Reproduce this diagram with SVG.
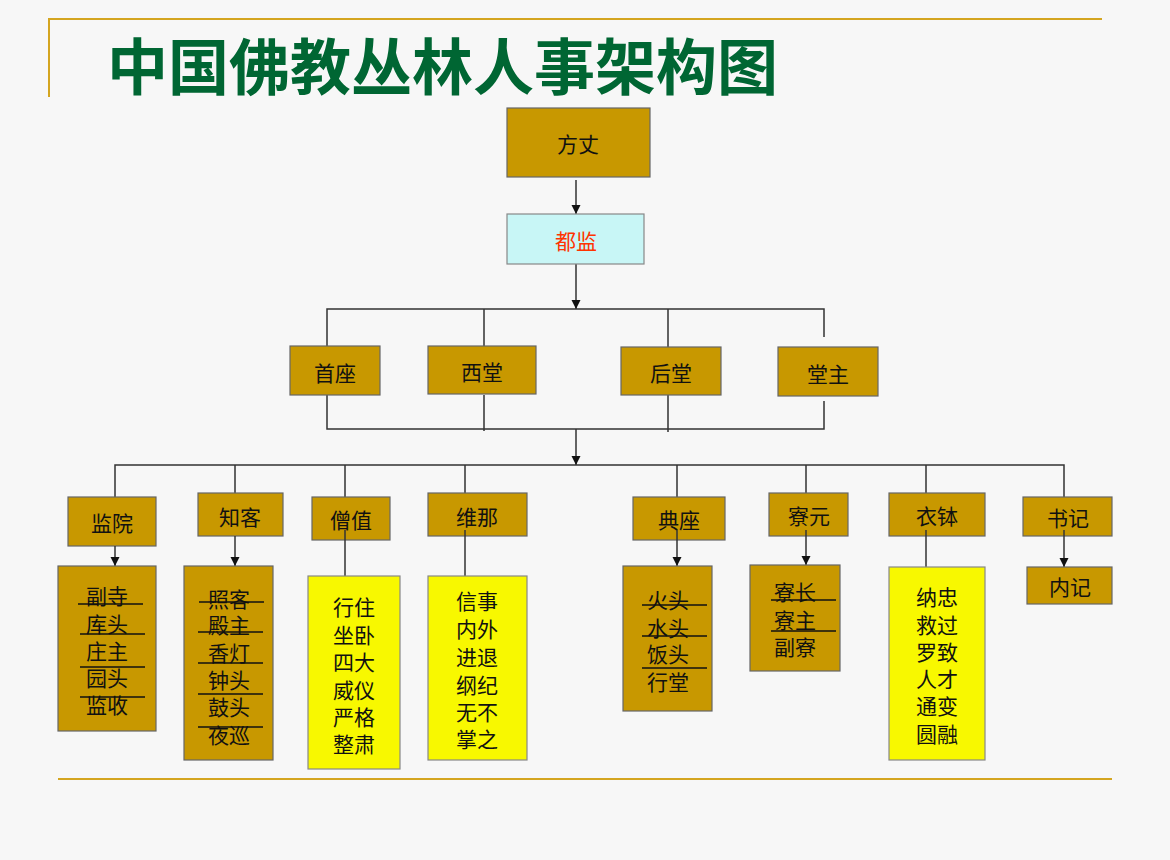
<svg xmlns="http://www.w3.org/2000/svg" width="1170" height="860" viewBox="0 0 1170 860">
<style>
.g{fill:#c89800;stroke:#666;stroke-width:1.2}
.y{fill:#f8f800;stroke:#888;stroke-width:1.2}
.b{fill:#c8f6f6;stroke:#888;stroke-width:1.2}
.t{font-family:"Noto Sans CJK SC","Noto Sans",sans-serif;font-size:21px;fill:#111;text-anchor:middle;dominant-baseline:central}
.r{fill:#ff3300}
.c{stroke:#333;stroke-width:1.5;fill:none}
.s{stroke:#111;stroke-width:1.3}
.gl{stroke:#d4a520;stroke-width:2;fill:none}
</style>
<defs>
<marker id="a" markerUnits="userSpaceOnUse" markerWidth="10" markerHeight="10" refX="9" refY="4.5" orient="auto"><path d="M0,0 L9,4.5 L0,9 z" fill="#111"/></marker>
</defs>
<rect width="1170" height="860" fill="#f7f7f7"/>
<path class="gl" d="M48,19 H1102 M49,19 V97"/>
<line class="gl" x1="58" y1="779" x2="1112" y2="779"/>
<text x="107" y="63" font-family="'Noto Sans CJK SC',sans-serif" font-weight="bold" font-size="61" fill="#006633" dominant-baseline="central">中国佛教丛林人事架构图</text>

<g id="connectors">
<line class="c" x1="576" y1="180" x2="576" y2="214" marker-end="url(#a)"/>
<line class="c" x1="576" y1="264" x2="576" y2="309" marker-end="url(#a)"/>
<path class="c" d="M327,346 V309 H824 V337 M484,309 V346 M668,309 V347"/>
<path class="c" d="M327,395 V429 H824 V401 M484,395 V431 M668,395 V432"/>
<line class="c" x1="576" y1="429" x2="576" y2="465" marker-end="url(#a)"/>
<path class="c" d="M115,497 V465 H1064 V497 M235,465 V493 M345,465 V497 M465,465 V493 M677,465 V497 M806,465 V493 M926,465 V493"/>
</g>

<g id="n-fangzhang"><rect class="g" x="507" y="108" width="143" height="69"/><text class="t" x="578" y="143">方丈</text></g>
<g id="n-dujian"><rect class="b" x="507" y="214" width="137" height="50"/><text class="t r" x="576" y="240">都监</text></g>

<g id="n-shouzuo"><rect class="g" x="290" y="346" width="90" height="49"/><text class="t" x="335" y="372">首座</text></g>
<g id="n-xitang"><rect class="g" x="428" y="346" width="108" height="48"/><text class="t" x="482" y="371">西堂</text></g>
<g id="n-houtang"><rect class="g" x="621" y="347" width="100" height="48"/><text class="t" x="671" y="372">后堂</text></g>
<g id="n-tangzhu"><rect class="g" x="778" y="347" width="100" height="49"/><text class="t" x="828" y="373">堂主</text></g>

<g id="n-jianyuan"><rect class="g" x="68" y="497" width="88" height="49"/><text class="t" x="112" y="522">监院</text></g>
<g id="n-zhike"><rect class="g" x="198" y="493" width="85" height="43"/><text class="t" x="240" y="516">知客</text></g>
<g id="n-sengzhi"><rect class="g" x="312" y="497" width="78" height="43"/><text class="t" x="351" y="519">僧值</text></g>
<g id="n-weina"><rect class="g" x="428" y="493" width="99" height="43"/><text class="t" x="477" y="516">维那</text></g>
<g id="n-dianzuo"><rect class="g" x="633" y="497" width="92" height="43"/><text class="t" x="679" y="519">典座</text></g>
<g id="n-liaoyuan"><rect class="g" x="769" y="493" width="79" height="43"/><text class="t" x="809" y="515">寮元</text></g>
<g id="n-yibo"><rect class="g" x="889" y="493" width="96" height="43"/><text class="t" x="937" y="515">衣钵</text></g>
<g id="n-shuji"><rect class="g" x="1023" y="497" width="89" height="39"/><text class="t" x="1068" y="517">书记</text></g>

<g id="sub-connectors">
<line class="c" x1="115" y1="546" x2="115" y2="566" marker-end="url(#a)"/>
<line class="c" x1="235" y1="536" x2="235" y2="566" marker-end="url(#a)"/>
<line class="c" x1="677" y1="530" x2="677" y2="566" marker-end="url(#a)"/>
<line class="c" x1="806" y1="530" x2="806" y2="565" marker-end="url(#a)"/>
<line class="c" x1="1064" y1="530" x2="1064" y2="567" marker-end="url(#a)"/>
<line class="c" x1="345" y1="530" x2="345" y2="577"/>
<line class="c" x1="465" y1="530" x2="465" y2="577"/>
<line class="c" x1="926" y1="530" x2="926" y2="568"/>
</g>

<g id="n-jianyuan-sub"><rect class="g" x="58" y="566" width="98" height="165"/>
<text class="t"><tspan x="107" y="595">副寺</tspan><tspan x="107" y="623">库头</tspan><tspan x="107" y="650">庄主</tspan><tspan x="107" y="677">园头</tspan><tspan x="107" y="704">监收</tspan></text>
<path class="s" d="M78,604 H143 M80,634 H145 M80,667 H145 M80,697 H145"/></g>

<g id="n-zhike-sub"><rect class="g" x="184" y="566" width="89" height="194"/>
<text class="t"><tspan x="229" y="598">照客</tspan><tspan x="229" y="624">殿主</tspan><tspan x="229" y="652">香灯</tspan><tspan x="229" y="679">钟头</tspan><tspan x="229" y="706">鼓头</tspan><tspan x="229" y="734">夜巡</tspan></text>
<path class="s" d="M199,602 H264 M198,632 H263 M198,663 H263 M198,694 H263 M198,727 H263"/></g>

<g id="n-sengzhi-sub"><rect class="y" x="308" y="576" width="92" height="193"/>
<text class="t"><tspan x="354" y="606">行住</tspan><tspan x="354" y="634">坐卧</tspan><tspan x="354" y="661">四大</tspan><tspan x="354" y="689">威仪</tspan><tspan x="354" y="716">严格</tspan><tspan x="354" y="743">整肃</tspan></text></g>

<g id="n-weina-sub"><rect class="y" x="428" y="576" width="99" height="184"/>
<text class="t"><tspan x="477" y="600">信事</tspan><tspan x="477" y="628">内外</tspan><tspan x="477" y="656">进退</tspan><tspan x="477" y="684">纲纪</tspan><tspan x="477" y="711">无不</tspan><tspan x="477" y="738">掌之</tspan></text></g>

<g id="n-dianzuo-sub"><rect class="g" x="623" y="566" width="89" height="145"/>
<text class="t"><tspan x="668" y="599">火头</tspan><tspan x="668" y="627">水头</tspan><tspan x="668" y="653">饭头</tspan><tspan x="668" y="681">行堂</tspan></text>
<path class="s" d="M642,605 H707 M642,636 H707 M642,668 H707"/></g>

<g id="n-liaoyuan-sub"><rect class="g" x="750" y="565" width="90" height="106"/>
<text class="t"><tspan x="795" y="591">寮长</tspan><tspan x="795" y="619">寮主</tspan><tspan x="795" y="646">副寮</tspan></text>
<path class="s" d="M771,600 H836 M771,631 H836"/></g>

<g id="n-yibo-sub"><rect class="y" x="889" y="567" width="96" height="193"/>
<text class="t"><tspan x="937" y="596">纳忠</tspan><tspan x="937" y="624">救过</tspan><tspan x="937" y="651">罗致</tspan><tspan x="937" y="678">人才</tspan><tspan x="937" y="705">通变</tspan><tspan x="937" y="733">圆融</tspan></text></g>

<g id="n-neiji"><rect class="g" x="1027" y="567" width="85" height="37"/><text class="t" x="1070" y="586">内记</text></g>
</svg>
